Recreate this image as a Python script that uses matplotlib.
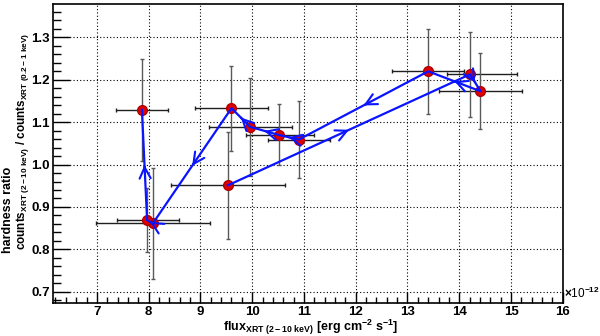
import matplotlib
matplotlib.use("Agg")
import matplotlib.pyplot as plt
import numpy as np
from matplotlib.ticker import MultipleLocator

plt.rcParams['font.family'] = ['Liberation Sans', 'DejaVu Sans']
plt.rcParams['font.weight'] = 'bold'
plt.rcParams['mathtext.fontset'] = 'custom'
plt.rcParams['mathtext.rm'] = 'Liberation Sans:bold'
plt.rcParams['mathtext.bf'] = 'Liberation Sans:bold'
plt.rcParams['mathtext.it'] = 'Liberation Sans:bold'

# points in time order (path follows the arrows)
flux = [9.53, 14.21, 14.41, 13.40, 10.90, 10.51, 9.96, 9.60, 8.08, 7.97, 7.87]
hr = [0.951, 1.213, 1.173, 1.220, 1.059, 1.070, 1.089, 1.133, 0.861, 0.869, 1.129]
flux_err_lo = [1.10, 0.44, 0.80, 0.70, 0.60, 0.62, 0.80, 0.70, 1.10, 0.58, 0.50]
flux_err_hi = [1.10, 0.90, 0.80, 0.70, 0.60, 0.68, 0.80, 0.70, 1.10, 0.62, 0.50]
hr_err = [0.127, 0.100, 0.090, 0.100, 0.090, 0.072, 0.115, 0.100, 0.130, 0.075, 0.120]

fig = plt.figure(figsize=(6, 3.36), dpi=100)
ax = fig.add_axes([0.089, 0.099, 0.849, 0.888])

# error bars
ax.errorbar(flux, hr, xerr=[flux_err_lo, flux_err_hi], fmt='none', ecolor='0.12',
            elinewidth=1.0, capsize=1.5, capthick=1.0, zorder=2)
ax.errorbar(flux, hr, yerr=hr_err, fmt='none', ecolor='0.35',
            elinewidth=1.0, capsize=1.5, capthick=1.0, zorder=2)

# markers
ax.plot(flux, hr, 'o', color='#e00000', markeredgecolor='#b00000', markersize=7, zorder=3)

# path with arrows at segment midpoints
ax.plot(flux, hr, '-', color='#0a14ff', lw=1.6, zorder=4)
for i in range(len(flux) - 1):
    x0, y0, x1, y1 = flux[i], hr[i], flux[i + 1], hr[i + 1]
    mx, my = (x0 + x1) / 2, (y0 + y1) / 2
    ax.annotate('', xy=(mx, my), xytext=(mx - 0.02 * (x1 - x0), my - 0.02 * (y1 - y0)),
                arrowprops=dict(arrowstyle='->,head_length=0.8,head_width=0.4',
                                color='#0a14ff', lw=1.5, shrinkA=0, shrinkB=0),
                zorder=5)

ax.set_xlim(6.16, 16)
ax.set_ylim(0.674, 1.378)

ax.xaxis.set_major_locator(MultipleLocator(1))
ax.xaxis.set_minor_locator(MultipleLocator(0.2))
ax.yaxis.set_major_locator(MultipleLocator(0.1))
ax.yaxis.set_minor_locator(MultipleLocator(0.02))
ax.yaxis.set_major_formatter(matplotlib.ticker.FormatStrFormatter('%.1f'))

ax.tick_params(which='both', direction='in', top=False, right=False, width=1.0)
ax.tick_params(axis='x', which='major', length=8, pad=2, labelsize=9.5)
ax.tick_params(axis='x', which='minor', length=4)
ax.tick_params(axis='y', which='major', length=12, pad=2.5, labelsize=9.5)
ax.tick_params(axis='y', which='minor', length=6)

ax.grid(True, which='major', color='black', linestyle=(0, (1, 2)), lw=0.8)
ax.set_axisbelow(True)
for s in ax.spines.values():
    s.set_linewidth(1.2)

# axis titles
fig.text(0.517, 1 - 331 / 336,
         r'flux$_{\mathrm{XRT\ (2-10\ keV)}}$ [erg cm$^{\mathrm{-2}}$ s$^{\mathrm{-1}}$]',
         ha='center', va='baseline', fontsize=9, fontweight='bold')
fig.text(0.013, 1 - 253 / 336, 'hardness ratio', rotation=90, rotation_mode='anchor',
         ha='left', va='center', fontsize=9, fontweight='bold')
fig.text(0.038, 1 - 250 / 336,
         r'counts$_{\mathrm{XRT\ (2-10\ keV)}}$ / counts$_{\mathrm{XRT\ (0.2-1\ keV)}}$',
         rotation=90, rotation_mode='anchor', ha='left', va='center',
         fontsize=8.5, fontweight='bold')
fig.text(0.940, 1 - 293 / 336, r'$\times$10$^{\mathrm{-12}}$', ha='left', va='center',
         fontsize=8.5, fontweight='normal')

fig.savefig('out.png', dpi=100)
